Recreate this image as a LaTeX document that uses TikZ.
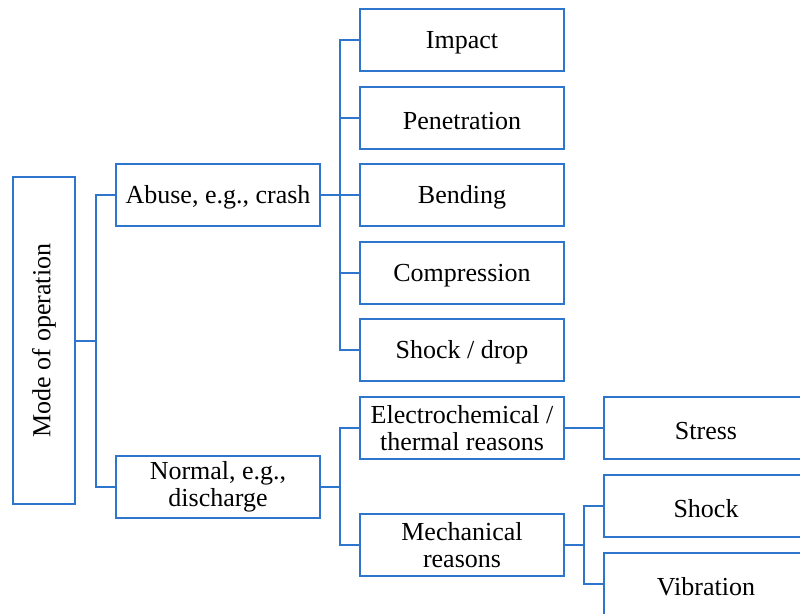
\documentclass[tikz,border=0pt]{standalone}
\usepackage{fontspec}
\setmainfont{Liberation Serif}
\definecolor{lineblue}{RGB}{46,117,206}
\tikzset{
  box/.style={draw=lineblue, line width=0.8pt, fill=white, minimum width=102pt, minimum height=31pt,
    inner sep=1pt, align=center, font=\fontsize{13}{13.6}\selectfont,
    execute at begin node={\rule{0pt}{11.5pt}}},
  rootbox/.style={draw=lineblue, line width=0.8pt, fill=white, minimum width=31pt, minimum height=163.5pt,
    inner sep=1pt, font=\fontsize{13}{13.6}\selectfont},
  conn/.style={draw=lineblue, line width=0.8pt}
}
\begin{document}
\begin{tikzpicture}[x=0.5pt,y=-0.5pt]
\clip (0,0) rectangle (800,614);
\fill[white] (0,0) rectangle (800,614);
% root
\node[rootbox] (root) at (44,340.5) {\rotatebox{90}{Mode of operation}};
% level 1
\node[box] (abuse) at (218,195) {Abuse, e.g., crash};
\node[box] (normal) at (218,487) {Normal, e.g.,\\discharge};
% level 2
\node[box] (impact) at (462,40) {Impact};
\node[box] (pen) at (462,118) {Penetration};
\node[box] (bend) at (462,195) {Bending};
\node[box] (comp) at (462,273) {Compression};
\node[box] (shockdrop) at (462,350) {Shock / drop};
\node[box] (electro) at (462,428) {Electrochemical /\\thermal reasons};
\node[box] (mech) at (462,545) {Mechanical\\reasons};
% level 3
\node[box] (stress) at (706,428) {Stress};
\node[box] (shock) at (706,506) {Shock};
\node[box] (vib) at (706,584) {Vibration};
% bus coordinates
\coordinate (bus1) at (96,341);
\coordinate (bus2) at (340,195);
\coordinate (bus3) at (340,487);
\coordinate (bus4) at (584,545);
% connectors
\draw[conn] (root.east |- bus1) -- (bus1);
\draw[conn] (abuse.west) -| (bus1) |- (normal.west);
\draw[conn] (abuse.east) -- (bus2);
\draw[conn] (impact.west) -| (bus2) |- (shockdrop.west);
\draw[conn] (pen.west) -- (pen.west -| bus2);
\draw[conn] (bend.west) -- (bend.west -| bus2);
\draw[conn] (comp.west) -- (comp.west -| bus2);
\draw[conn] (normal.east) -- (bus3);
\draw[conn] (electro.west) -| (bus3) |- (mech.west);
\draw[conn] (electro.east) -- (stress.west);
\draw[conn] (mech.east) -- (bus4);
\draw[conn] (shock.west) -| (bus4) |- (vib.west);
\end{tikzpicture}
\end{document}
